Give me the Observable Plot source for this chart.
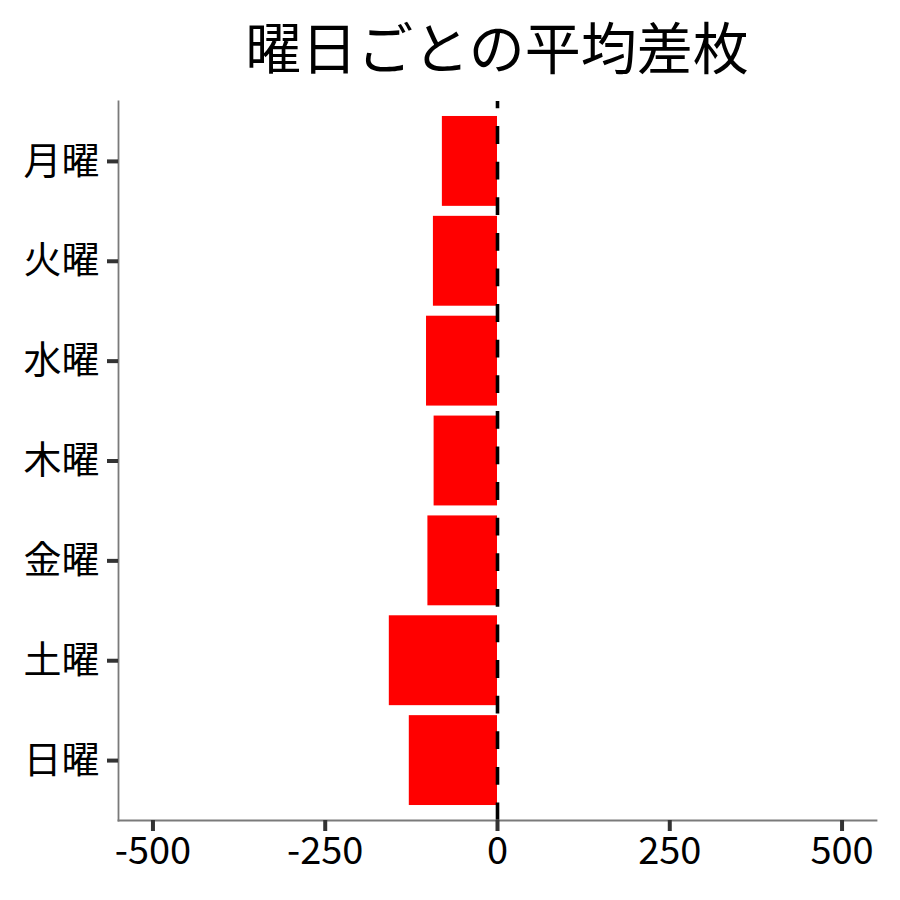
<!DOCTYPE html>
<html><head><meta charset="utf-8">
<script src="https://cdn.jsdelivr.net/npm/d3@7"></script>
<script src="https://cdn.jsdelivr.net/npm/@observablehq/plot@0.6"></script>
<style>
body{margin:0;background:#fff;font-family:"Noto Sans CJK JP","Noto Sans",sans-serif;}
#title{box-sizing:border-box;width:900px;height:90px;line-height:90px;font-size:56px;text-align:center;padding-left:94px;color:#000;white-space:nowrap;}
#chart svg{display:block;}
</style>
</head><body>
<div id="title">曜日ごとの平均差枚</div>
<div id="chart"></div>
<script>
const days = ["月曜","火曜","水曜","木曜","金曜","土曜","日曜"];
const diffs = [-80, -93, -103, -92, -101, -157, -128];
const xTicks = [-500, -250, 0, 250, 500];
const xDomain = [-550, 550];

const data = days.map((d, i) => ({day: d, value: diffs[i]}));
const font = '"Noto Sans CJK JP","Noto Sans",sans-serif';

const chart = Plot.plot({
  width: 900,
  height: 810,
  marginTop: 11,
  marginBottom: 80,
  marginLeft: 118,
  marginRight: 24,
  style: {fontFamily: font, fontSize: "38px", color: "#000", background: "#fff"},
  x: {domain: xDomain, label: null},
  y: {domain: days, paddingInner: 0.1, paddingOuter: 0.15, round: false, label: null},
  marks: [
    Plot.barX(data, {x: "value", y: "day", fill: "#ff0000"}),
    Plot.ruleX([0], {stroke: "#000", strokeWidth: 3.6, strokeDasharray: "17.8,17.8", strokeDashoffset: 10.5}),
    Plot.frame({anchor: "left", stroke: "#7a7a7a", strokeWidth: 1.8}),
    Plot.frame({anchor: "bottom", stroke: "#7a7a7a", strokeWidth: 1.8}),
    Plot.axisX({ticks: xTicks, tickSize: 11, tickPadding: 6, stroke: "#333", strokeWidth: 4, fill: "#000", fontSize: 38, label: null, tickFormat: d => String(d)}),
    Plot.axisY({tickSize: 11, tickPadding: 8, stroke: "#333", strokeWidth: 4, fill: "#000", fontSize: 38, label: null})
  ]
});
document.getElementById("chart").appendChild(chart);
</script>
</body></html>
